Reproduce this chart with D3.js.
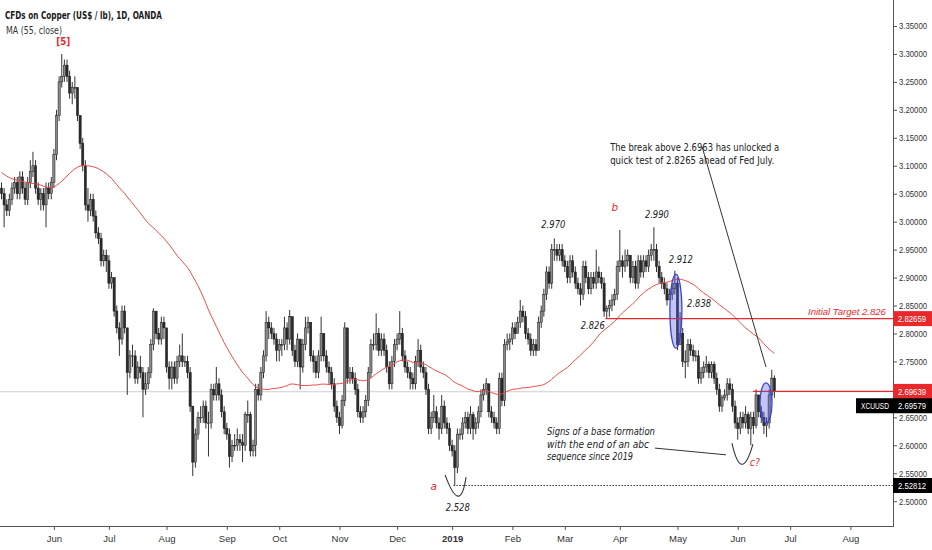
<!DOCTYPE html>
<html>
<head>
<meta charset="utf-8">
<script src="https://cdn.jsdelivr.net/npm/d3@7"></script>
<style>
  html, body { margin: 0; padding: 0; background: #fff; }
  svg { display: block; font-family: "DejaVu Sans", "Noto Sans", sans-serif; }
</style>
</head>
<body>
<div id="chart"></div>
<script>
// closes before the first visible bar, only used to seed the 55 day MA
const warmup = [
  3.23,3.21,3.20,3.18,3.17,3.15,3.14,3.12,3.11,
  3.12,3.12,3.14,3.13,3.11,3.09,3.11,3.13,3.14,3.11,3.07,3.06,3.04,3.05,3.06,3.03,2.99,2.98,3.00,3.02,3.03,3.04,
  3.04,3.03,3.05,3.06,3.08,3.06,3.07,3.09,3.10,3.11,3.13,3.12,3.14,3.13,3.11,3.10,3.09,3.08,3.06,3.07,3.05,
  3.06,3.05,3.06
];

// daily bars from 4 May 2018 to 21 Jun 2019 (open = previous close)
const closes = [
  3.05,3.03,3.02,3.04,3.06,3.07,3.05,3.08,3.06,3.04,3.07,3.09,3.10,3.06,3.04,3.05,3.03,3.06,3.05,3.07,
  3.12,3.19,3.25,3.26,3.28,3.26,3.23,3.24,3.24,3.19,3.14,3.10,3.03,3.02,3.04,3.01,2.98,2.97,2.93,2.94,2.93,
  2.89,2.90,2.84,2.81,2.79,2.84,2.81,2.73,2.76,2.76,2.72,2.74,2.73,2.70,2.71,2.73,2.78,2.84,2.80,2.79,2.82,2.81,
  2.74,2.72,2.74,2.72,2.75,2.76,2.75,2.75,2.73,2.67,2.57,2.62,2.65,2.65,2.67,2.64,2.64,2.70,2.69,2.71,2.69,2.66,2.63,
  2.62,2.58,2.60,2.60,2.61,2.605,2.60,2.655,2.655,2.59,2.60,2.70,2.69,2.73,2.76,2.82,2.81,2.80,2.79,2.77,
  2.78,2.78,2.81,2.79,2.83,2.77,2.75,2.79,2.74,2.78,2.81,2.82,2.76,2.75,2.73,2.76,2.80,2.76,2.74,2.73,2.71,2.67,2.65,
  2.635,2.68,2.81,2.72,2.73,2.72,2.70,2.66,2.65,2.66,2.68,2.73,2.78,2.78,2.80,2.77,2.79,2.77,2.74,2.71,2.75,2.78,
  2.79,2.80,2.76,2.74,2.73,2.72,2.71,2.75,2.77,2.74,2.73,2.70,2.63,2.65,2.66,2.64,2.63,2.67,2.64,2.63,2.60,
  2.59,2.56,2.62,2.62,2.64,2.65,2.63,2.655,2.63,2.64,2.66,2.69,2.70,2.71,2.66,2.65,2.64,2.63,2.72,2.68,2.78,2.785,2.79,
  2.81,2.80,2.82,2.84,2.83,2.80,2.79,2.77,2.78,2.77,2.82,2.84,2.87,2.91,2.89,2.95,2.95,2.94,2.95,2.93,
  2.92,2.90,2.93,2.91,2.89,2.88,2.87,2.92,2.90,2.88,2.90,2.89,2.91,2.90,2.89,2.84,2.845,2.85,2.86,2.87,2.92,
  2.93,2.92,2.93,2.94,2.90,2.92,2.89,2.93,2.91,2.93,2.92,2.94,2.95,2.95,2.92,2.90,2.89,2.88,2.86,2.87,2.88,2.89,
  2.78,2.80,2.75,2.75,2.78,2.77,2.76,2.76,2.72,2.73,2.74,2.745,2.73,2.745,2.72,2.70,2.67,2.685,2.69,2.71,2.70,2.67,2.64,
  2.63,2.65,2.64,2.655,2.63,2.65,2.635,2.69,2.66,2.65,2.635,2.64,2.69,2.72,2.6958
];
const highs = [
  3.07,3.06,3.04,3.05,3.07,3.08,3.08,3.09,3.09,3.07,3.08,3.11,3.125,3.11,3.07,3.06,3.06,3.07,3.07,3.08,
  3.13,3.20,3.26,3.30,3.29,3.29,3.27,3.25,3.26,3.24,3.19,3.15,3.11,3.06,3.05,3.05,3.02,2.99,2.98,2.95,2.95,
  2.94,2.91,2.90,2.85,2.82,2.85,2.85,2.81,2.77,2.78,2.77,2.75,2.76,2.74,2.73,2.74,2.79,2.845,2.84,2.81,2.83,2.83,
  2.81,2.75,2.75,2.75,2.76,2.78,2.80,2.76,2.76,2.74,2.67,2.63,2.66,2.67,2.68,2.68,2.66,2.71,2.71,2.74,2.72,2.70,2.67,
  2.64,2.63,2.61,2.62,2.63,2.62,2.62,2.66,2.68,2.66,2.61,2.71,2.71,2.74,2.77,2.84,2.83,2.82,2.81,2.80,
  2.79,2.79,2.83,2.82,2.842,2.83,2.78,2.80,2.79,2.79,2.83,2.83,2.82,2.77,2.76,2.77,2.83,2.80,2.77,2.75,2.74,2.72,2.68,
  2.66,2.69,2.82,2.81,2.74,2.74,2.73,2.71,2.67,2.67,2.69,2.74,2.79,2.80,2.836,2.81,2.80,2.80,2.78,2.75,2.76,2.79,
  2.80,2.84,2.81,2.77,2.75,2.74,2.73,2.76,2.79,2.78,2.75,2.74,2.71,2.66,2.69,2.67,2.65,2.69,2.68,2.65,2.64,
  2.61,2.60,2.63,2.63,2.65,2.66,2.66,2.67,2.66,2.65,2.67,2.70,2.71,2.72,2.71,2.67,2.66,2.65,2.73,2.73,2.79,2.80,2.80,
  2.82,2.82,2.83,2.86,2.85,2.84,2.81,2.80,2.79,2.79,2.83,2.85,2.88,2.92,2.92,2.96,2.97,2.96,2.96,2.96,
  2.94,2.93,2.94,2.94,2.92,2.90,2.89,2.93,2.93,2.91,2.91,2.91,2.95,2.92,2.91,2.90,2.85,2.86,2.87,2.88,2.93,
  2.985,2.94,2.95,2.95,2.94,2.93,2.93,2.94,2.94,2.94,2.94,2.95,2.96,2.99,2.96,2.93,2.91,2.90,2.89,2.88,2.89,2.912,
  2.90,2.838,2.81,2.77,2.79,2.79,2.78,2.77,2.77,2.74,2.75,2.76,2.75,2.75,2.75,2.73,2.71,2.69,2.70,2.72,2.72,2.71,2.68,
  2.65,2.66,2.66,2.67,2.66,2.66,2.66,2.70,2.69,2.67,2.66,2.65,2.70,2.735,2.725
];
const lows = [
  3.04,2.99,3.01,3.01,3.03,3.05,3.04,3.04,3.05,3.03,3.03,3.06,3.08,3.05,3.03,3.02,3.02,2.99,3.04,3.04,
  3.06,3.11,3.18,3.24,3.25,3.25,3.22,3.21,3.22,3.18,3.13,3.09,3.02,3.00,3.01,3.00,2.97,2.96,2.92,2.92,2.91,
  2.88,2.88,2.83,2.80,2.76,2.78,2.80,2.69,2.72,2.74,2.71,2.71,2.72,2.65,2.69,2.70,2.72,2.77,2.79,2.78,2.78,2.79,
  2.73,2.70,2.70,2.71,2.71,2.74,2.74,2.74,2.72,2.66,2.545,2.56,2.61,2.64,2.64,2.63,2.58,2.63,2.68,2.68,2.68,2.65,2.62,
  2.61,2.56,2.57,2.59,2.59,2.59,2.57,2.59,2.64,2.58,2.58,2.58,2.68,2.68,2.72,2.75,2.79,2.79,2.78,2.75,
  2.75,2.76,2.77,2.77,2.78,2.76,2.74,2.74,2.70,2.73,2.77,2.80,2.75,2.73,2.72,2.72,2.75,2.75,2.73,2.71,2.70,2.66,2.64,
  2.62,2.63,2.67,2.71,2.71,2.71,2.69,2.65,2.64,2.64,2.65,2.67,2.72,2.77,2.77,2.76,2.76,2.76,2.73,2.70,2.70,2.74,
  2.77,2.78,2.75,2.73,2.72,2.70,2.70,2.70,2.74,2.73,2.72,2.69,2.62,2.62,2.64,2.63,2.61,2.62,2.63,2.62,2.59,
  2.58,2.528,2.55,2.61,2.61,2.63,2.62,2.62,2.61,2.62,2.63,2.65,2.68,2.69,2.65,2.64,2.63,2.62,2.62,2.67,2.67,2.77,2.77,
  2.78,2.79,2.80,2.81,2.82,2.79,2.78,2.76,2.76,2.76,2.77,2.81,2.83,2.86,2.88,2.88,2.93,2.93,2.93,2.92,
  2.91,2.89,2.89,2.90,2.88,2.87,2.85,2.86,2.89,2.87,2.87,2.88,2.88,2.89,2.88,2.83,2.826,2.83,2.84,2.85,2.86,
  2.91,2.90,2.91,2.92,2.89,2.89,2.88,2.88,2.90,2.90,2.91,2.91,2.93,2.93,2.91,2.89,2.88,2.87,2.85,2.86,2.86,2.87,
  2.77,2.78,2.74,2.72,2.74,2.76,2.75,2.75,2.71,2.71,2.72,2.73,2.72,2.72,2.71,2.69,2.66,2.66,2.68,2.68,2.69,2.66,2.63,
  2.61,2.62,2.63,2.63,2.62,2.60,2.62,2.63,2.65,2.64,2.62,2.615,2.63,2.68,2.685
];

const priceTicks = [2.50,2.55,2.60,2.65,2.70,2.75,2.80,2.85,2.90,2.95,3.00,3.05,3.10,3.15,3.20,3.25,3.30,3.35];
const maPeriod = 55;
const lastPrice = 2.69579;
const breakLevel = 2.69639;
const targetLevel = 2.82659;
const lowLevel = 2.52812;

const W = 932, H = 550;
const plotRight = 893, plotBottom = 526;
const red = "#e8282b";
const ink = "#222";
const scaleFont = "Liberation Sans, Arial, sans-serif";

const svg = d3.select("#chart").append("svg")
  .attr("width", W)
  .attr("height", H);

// bar index -> pixel, 2.62 px per trading day
const x = d3.scaleLinear().domain([0, 100]).range([1.5, 263.5]);
const y = d3.scaleLinear().domain([2.50, 3.35]).range([501.2, 26]);

// trading calendar (weekdays)
const days = d3.timeDay.range(new Date(2018, 4, 4), new Date(2019, 8, 1))
  .filter(d => d.getDay() !== 0 && d.getDay() !== 6);

const monthTicks = [];
days.forEach((d, i) => {
  if (i > 0 && d.getMonth() !== days[i - 1].getMonth() && x(i) < plotRight - 20) monthTicks.push(i);
});

svg.append("defs").append("clipPath").attr("id", "plot")
  .append("rect").attr("x", 0).attr("y", 0).attr("width", plotRight).attr("height", plotBottom);

const plot = svg.append("g").attr("clip-path", "url(#plot)");

// last price line
plot.append("line")
  .attr("x1", 0).attr("x2", plotRight)
  .attr("y1", y(lastPrice)).attr("y2", y(lastPrice))
  .attr("stroke", "#cfcfcf").attr("stroke-width", 1);

// candles
const bars = closes.map((c, i) => {
  const o = i === 0 ? warmup[warmup.length - 1] : closes[i - 1];
  return { i, o, c, h: Math.max(highs[i], o, c), l: Math.min(lows[i], o, c) };
});

const candle = plot.append("g").selectAll("g")
  .data(bars)
  .enter()
  .append("g");

candle.append("line")
  .attr("x1", d => x(d.i)).attr("x2", d => x(d.i))
  .attr("y1", d => y(d.h)).attr("y2", d => y(d.l))
  .attr("stroke", "#1c1c1c").attr("stroke-width", 0.9);

candle.append("rect")
  .attr("x", d => x(d.i) - 1.1)
  .attr("width", 2.2)
  .attr("y", d => y(Math.max(d.o, d.c)))
  .attr("height", d => Math.max(0.8, Math.abs(y(d.o) - y(d.c))))
  .attr("fill", d => d.c >= d.o ? "#8a8a8a" : "#2b2b2b")
  .attr("stroke", "#1c1c1c")
  .attr("stroke-width", 0.5);

// MA (55, close)
const all = warmup.concat(closes);
const ma = closes.map((c, i) => {
  const g = i + warmup.length;
  return { i, v: d3.mean(all.slice(g - maPeriod + 1, g + 1)) };
});

plot.append("path")
  .datum(ma)
  .attr("fill", "none")
  .attr("stroke", "#ef4a4a")
  .attr("stroke-width", 1)
  .attr("d", d3.line().x(d => x(d.i)).y(d => y(d.v)));

// horizontal levels
plot.append("line")
  .attr("x1", x(230.5)).attr("x2", plotRight)
  .attr("y1", y(targetLevel)).attr("y2", y(targetLevel))
  .attr("stroke", red).attr("stroke-width", 1.2);

plot.append("line")
  .attr("x1", x(286.8)).attr("x2", plotRight)
  .attr("y1", y(breakLevel)).attr("y2", y(breakLevel))
  .attr("stroke", red).attr("stroke-width", 1.2);

plot.append("line")
  .attr("x1", x(172.5)).attr("x2", plotRight)
  .attr("y1", y(lowLevel)).attr("y2", y(lowLevel))
  .attr("stroke", "#333").attr("stroke-width", 1)
  .attr("stroke-dasharray", "1.5,1.5");

// ellipses around the break candles
[[257.4, 2.840, 6, 37], [291.8, 2.676, 6, 20]].forEach(([b, p, rx, ry]) => {
  plot.append("ellipse")
    .attr("cx", x(b)).attr("cy", y(p))
    .attr("rx", rx).attr("ry", ry)
    .attr("fill", "rgba(80,90,230,0.35)")
    .attr("stroke", "#3c44d6").attr("stroke-width", 1.3);
});

// arcs under the lows
function arc(p0, pb, p2) {
  const a = [x(p0[0]), y(p0[1])], b = [x(pb[0]), y(pb[1])], c = [x(p2[0]), y(p2[1])];
  const cx = 2 * b[0] - (a[0] + c[0]) / 2, cy = 2 * b[1] - (a[1] + c[1]) / 2;
  return `M${a[0]},${a[1]} Q${cx},${cy} ${c[0]},${c[1]}`;
}
plot.append("path").attr("d", arc([169.3, 2.547], [174.2, 2.509], [177.3, 2.543]))
  .attr("fill", "none").attr("stroke", "#333").attr("stroke-width", 1.1);
plot.append("path").attr("d", arc([278.8, 2.604], [282.6, 2.566], [286.8, 2.602]))
  .attr("fill", "none").attr("stroke", "#333").attr("stroke-width", 1.1);

// callout lines
plot.append("line")
  .attr("x1", x(267.4)).attr("y1", y(3.134))
  .attr("x2", x(291.8)).attr("y2", y(2.740))
  .attr("stroke", "#333").attr("stroke-width", 1);
plot.append("line")
  .attr("x1", x(249.4)).attr("y1", y(2.595))
  .attr("x2", x(276.5)).attr("y2", y(2.583))
  .attr("stroke", "#333").attr("stroke-width", 1);

// text helper
function txt(g, s, px, py, o = {}) {
  const t = g.append("text")
    .attr("x", px).attr("y", py)
    .attr("font-size", o.size || 10)
    .attr("fill", o.color || ink)
    .attr("text-anchor", o.anchor || "start")
    .text(s);
  if (o.family) t.attr("font-family", o.family);
  if (o.italic) t.attr("font-style", "italic");
  if (o.bold) t.attr("font-weight", o.bold);
  if (o.w) t.attr("textLength", o.w).attr("lengthAdjust", "spacingAndGlyphs");
  return t;
}

const notes = svg.append("g");

// wave labels, anchored to bar / price
const waveLabels = [
  { s: "[5]",   bar: 23,  p: 3.300, dx: 1.5, dy: -8.5, color: red, bold: 700, w: 14 },
  { s: "2.970", bar: 211, p: 2.970, dx: -1,  dy: -10, italic: true, w: 24 },
  { s: "2.990", bar: 249, p: 2.990, dx: 3,   dy: -9,  italic: true, w: 24 },
  { s: "2.912", bar: 257, p: 2.912, dx: 6,   dy: -8,  italic: true, w: 24 },
  { s: "2.838", bar: 259, p: 2.838, dx: 19,  dy: -5,  italic: true, w: 24 },
  { s: "2.826", bar: 231, p: 2.826, dx: -14, dy: 10,  italic: true, w: 24 },
  { s: "2.528", bar: 173, p: 2.528, dx: 3,   dy: 25.5, italic: true, w: 24 },
  { s: "b",     bar: 236, p: 2.985, dx: -5,  dy: -19, italic: true, color: red },
  { s: "a",     bar: 173, p: 2.528, dx: -21, dy: 4.5, italic: true, color: red },
  { s: "c?",    bar: 286, p: 2.600, dx: 4,   dy: 21,  italic: true, color: red, w: 10 }
];
waveLabels.forEach(d => {
  txt(notes, d.s, x(d.bar) + d.dx, y(d.p) + d.dy,
    { anchor: "middle", size: 10.5, italic: d.italic, bold: d.bold, color: d.color, w: d.w });
});

// comment texts
txt(notes, "The break above 2.6963 has unlocked a", x(232.3), y(3.1264), { size: 10, w: 169 });
txt(notes, "quick test of 2.8265 ahead of Fed July.", x(232.3), y(3.1264) + 12.5, { size: 10, w: 164 });

const baseNote = ["Signs of a base formation", "with the end of an abc", "sequence since 2019"];
const baseW = [108, 102, 86];
baseNote.forEach((s, k) => {
  txt(notes, s, x(208.2), y(2.618) + k * 12.5, { size: 10, italic: true, w: baseW[k] });
});

txt(notes, "Initial Target 2.826", 808, y(targetLevel) - 3.5,
  { size: 9.5, italic: true, color: red, family: scaleFont });

// header
txt(notes, "CFDs on Copper (US$ / lb), 1D, OANDA", 5, 19, { size: 10.5, bold: 700, color: "#1a1a1a", w: 157 });
txt(notes, "MA (55, close)", 6, 34, { size: 10.5, color: "#333", w: 56 });

// x axis
const xAxis = svg.append("g")
  .attr("transform", `translate(0,${plotBottom})`)
  .call(d3.axisBottom(x)
    .tickValues(monthTicks)
    .tickSize(4)
    .tickPadding(5)
    .tickFormat(i => days[i].getMonth() === 0 ? d3.timeFormat("%Y")(days[i]) : d3.timeFormat("%b")(days[i])));
xAxis.select(".domain").remove();
xAxis.selectAll(".tick line").attr("stroke", "#555");
xAxis.selectAll(".tick text")
  .attr("font-size", 9.5)
  .attr("fill", "#333")
  .attr("font-family", scaleFont)
  .attr("font-weight", i => days[i].getMonth() === 0 ? 700 : 400);

svg.append("line")
  .attr("x1", 0).attr("x2", plotRight)
  .attr("y1", plotBottom + 0.5).attr("y2", plotBottom + 0.5)
  .attr("stroke", "#555").attr("stroke-width", 1);

// price boxes sit on the scale, so hide tick labels right under them
const boxCenters = [y(targetLevel), y(breakLevel), y(lastPrice) + 14, y(lowLevel)];
const visibleTicks = priceTicks.filter(p => boxCenters.every(c => Math.abs(y(p) - c) > 9));

// y axis
const yAxis = svg.append("g")
  .attr("transform", `translate(${plotRight},0)`)
  .call(d3.axisRight(y)
    .tickValues(visibleTicks)
    .tickSize(4)
    .tickPadding(2)
    .tickFormat(d3.format(".5f")));
yAxis.select(".domain").remove();
yAxis.selectAll(".tick line").attr("stroke", "#555");
yAxis.selectAll(".tick text")
  .attr("font-size", 9)
  .attr("fill", "#333")
  .attr("font-family", scaleFont)
  .attr("textLength", 28)
  .attr("lengthAdjust", "spacingAndGlyphs");

svg.append("line")
  .attr("x1", plotRight + 0.5).attr("x2", plotRight + 0.5)
  .attr("y1", 0).attr("y2", plotBottom + 1)
  .attr("stroke", "#555").attr("stroke-width", 1);

// price boxes on the scale
function priceBox(level, fill, cy, label) {
  const g = svg.append("g");
  const left = label ? 856 : plotRight;
  g.append("rect")
    .attr("x", left).attr("y", cy - 7.5)
    .attr("width", W - left).attr("height", 15)
    .attr("fill", fill);
  if (label) txt(g, label, 861, cy + 3.2, { size: 9, color: "#fff", w: 28, family: scaleFont });
  txt(g, d3.format(".5f")(level), 898, cy + 3.2, { size: 9, color: "#fff", w: 28, family: scaleFont });
}
priceBox(targetLevel, red, boxCenters[0]);
priceBox(breakLevel, red, boxCenters[1]);
priceBox(lastPrice, "#000", boxCenters[2], "XCUUSD");
priceBox(lowLevel, "#000", boxCenters[3]);
</script>
</body>
</html>
